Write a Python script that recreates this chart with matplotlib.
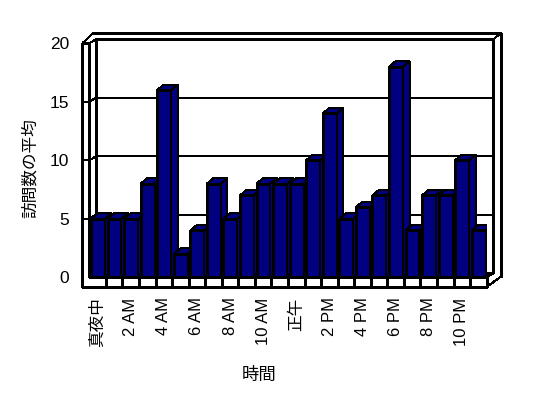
import matplotlib
matplotlib.use("Agg")
import matplotlib.pyplot as plt
from matplotlib.patches import Polygon

plt.rcParams['font.family'] = ['Liberation Sans', 'Noto Sans CJK JP']

# データ
hours = ['真夜中', '1 AM', '2 AM', '3 AM', '4 AM', '5 AM', '6 AM', '7 AM', '8 AM',
         '9 AM', '10 AM', '11 AM', '正午', '1 PM', '2 PM', '3 PM', '4 PM', '5 PM',
         '6 PM', '7 PM', '8 PM', '9 PM', '10 PM', '11 PM']
visits = [5, 5, 5, 8, 16, 2, 4, 8, 5, 7, 8, 8, 8, 10, 14, 5, 6, 7, 18, 4, 7, 7, 10, 4]
y_ticks = [0, 5, 10, 15, 20]

bar_color = '#000080'
lw = 0.75
n = len(hours)

fig = plt.figure(figsize=(5.48, 3.98), dpi=100)
ax = fig.add_axes([0.163, 0.3033, 0.7252, 0.588])
ax.set_xlim(0, n)
ax.set_ylim(0, 20)
for s in ax.spines.values():
    s.set_visible(False)

# 奥行き (壁と棒)
wdx, wdy = 0.40, 0.34
bdx, bdy = 0.40, 0.47
ymax = y_ticks[-1]


def line(xs, ys, z=1):
    ax.plot(xs, ys, color='black', lw=lw, clip_on=False, zorder=z,
            antialiased=False, solid_capstyle='butt')


# 奥の壁と左の壁
line([wdx, wdx], [wdy, ymax + wdy])
line([wdx, n + wdx], [ymax + wdy, ymax + wdy])
line([n + wdx, n + wdx], [wdy, ymax + wdy])
line([0.22, n + 0.84], [ymax + 0.85, ymax + 0.85])
line([n + wdx, n + 0.84], [ymax + wdy, ymax + 0.85])
line([n + 0.84, n + 0.84], [0.05, ymax + 0.85])
line([-0.42, 0.22], [ymax, ymax + 0.85])
line([-0.42, 0], [ymax, ymax])
line([0, wdx], [ymax, ymax + wdy])
line([-0.42, -0.42], [-0.83, ymax])
line([0, 0], [0, ymax])
for v in y_ticks[1:-1]:
    line([-0.42, 0, wdx, n + wdx], [v, v, v + wdy, v + wdy])

# 床
line([wdx, n + wdx], [wdy, wdy])
line([0, n], [0, 0], z=50)
line([-0.42, n], [-0.83, -0.83], z=50)
for k in range(1, n + 1):
    line([k, k], [0, -0.83], z=50)
line([n, n + wdx], [0, wdy], z=50)
line([n, n + 0.84], [-0.83, 0.05], z=50)

# 棒
bars = ax.bar([i + 0.1 for i in range(n)], visits, width=0.84, align='edge',
              color=bar_color, edgecolor='black', linewidth=lw)
for i, (b, v) in enumerate(zip(bars, visits)):
    z = 5 + i
    b.set_zorder(z)
    b.set_antialiased(False)
    x0, x1 = i + 0.1, i + 0.94
    side = Polygon([(x1, 0), (x1 + bdx, bdy), (x1 + bdx, v + bdy), (x1, v)],
                   closed=True, facecolor=bar_color, edgecolor='black',
                   lw=lw, zorder=z, antialiased=False)
    top = Polygon([(x0, v), (x1, v), (x1 + bdx, v + bdy), (x0 + bdx, v + bdy)],
                  closed=True, facecolor=bar_color, edgecolor='black',
                  lw=lw, zorder=z, antialiased=False)
    ax.add_patch(side)
    ax.add_patch(top)

# 軸ラベル
ax.set_yticks(y_ticks)
ax.set_yticklabels([str(t) for t in y_ticks], fontsize=12.5)
ax.tick_params(axis='y', length=0, pad=14.5)
ax.set_xticks([i + 0.5 for i in range(0, n, 2)])
ax.set_xticklabels(hours[::2], rotation=90, fontsize=12, va='top')
ax.tick_params(axis='x', length=0, pad=14.5)

fig.text(30 / 548, 1 - 168 / 398, '訪問数の平均', rotation=90, fontsize=12,
         ha='center', va='center')
fig.text(259 / 548, 1 - 374.5 / 398, '時間', fontsize=12.5, ha='center', va='center')

fig.savefig('out.png', dpi=100, facecolor='white')
